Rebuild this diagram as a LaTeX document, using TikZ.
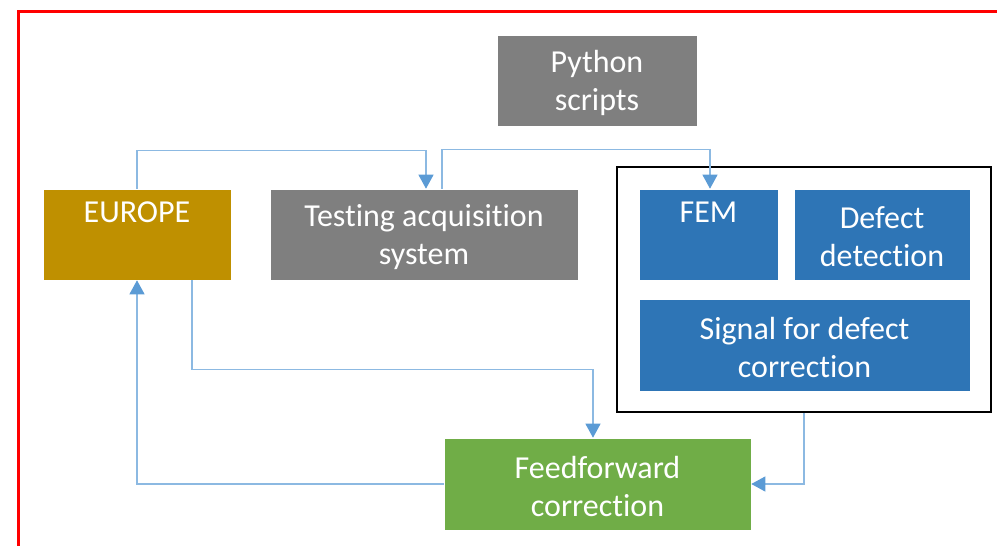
\documentclass[tikz,border=0pt]{standalone}
\usepackage{fontspec}
\setmainfont[Ligatures=NoCommon]{Carlito}
\usetikzlibrary{arrows.meta,calc}
\definecolor{gbox}{HTML}{7F7F7F}
\definecolor{gold}{HTML}{BF9000}
\definecolor{bbox}{HTML}{2E75B6}
\definecolor{grn}{HTML}{70AD47}
\definecolor{lnk}{HTML}{5B9BD5}
\tikzset{
  box/.style={draw=white, line width=0.6pt, inner sep=0pt},
  lbl/.style={text=white, align=center, inner sep=0pt, yshift=-2.5pt,
    font=\fontsize{32}{38}\selectfont},
  link/.style={draw=lnk!70, line width=1.2pt, -{Triangle[width=15pt,length=14pt,color=lnk]}},
}
\begin{document}
\begin{tikzpicture}[x=1pt,y=-1pt]
\useasboundingbox (0,0) rectangle (997,546);
\begin{scope}
\clip (0,0) rectangle (997,546);
\draw[red, line width=2.2pt] (18.5,11.5) rectangle (1010,560);
\end{scope}
% boxes
\node[box, fill=gbox, minimum width=200pt, minimum height=91pt,
  label={[lbl]center:Python\\scripts}] (py) at (597,80.5) {};
\node[box, fill=gold, minimum width=188pt, minimum height=91pt,
  label={[lbl]center:EUROPE\\\strut}] (eu) at (137,234.5) {};
\node[box, fill=gbox, minimum width=308pt, minimum height=91pt,
  label={[lbl]center:Testing acquisition\\system}] (ta) at (424,234.5) {};
\node[draw=black, line width=1.6pt, minimum width=374pt, minimum height=245pt, inner sep=0pt] (fr) at (804,289.5) {};
\node[box, fill=bbox, minimum width=139pt, minimum height=91pt,
  label={[lbl]center:FEM\\\strut}] (fem) at (708.5,234.5) {};
\node[box, fill=bbox, minimum width=176pt, minimum height=91pt,
  label={[lbl]center:Defect\\detection}] (dd) at (882,234.5) {};
\node[box, fill=bbox, minimum width=331pt, minimum height=92pt,
  label={[lbl]center:Signal for defect\\correction}] (sig) at (804.5,345) {};
\node[box, fill=grn, minimum width=307pt, minimum height=92pt,
  label={[lbl]center:Feedforward\\correction}] (ff) at (597.5,484) {};
% connectors
\coordinate (c1) at ([yshift=38pt]eu.north);
\draw[link] (eu.north) -- (c1) -| ([xshift=2pt]ta.north);
\coordinate (c2) at ([xshift=18pt,yshift=39pt]ta.north);
\draw[link] ([xshift=18pt]ta.north) -- (c2) -| ([xshift=1.5pt]fem.north);
\coordinate (c3) at ([xshift=55pt,yshift=-89pt]eu.south);
\draw[link] ([xshift=55pt]eu.south) -- (c3) -| ([xshift=-4.5pt]ff.north);
\draw[link] (fr.south) |- (ff.east);
\draw[link] (ff.west) -| (eu.south);
\end{tikzpicture}
\end{document}
